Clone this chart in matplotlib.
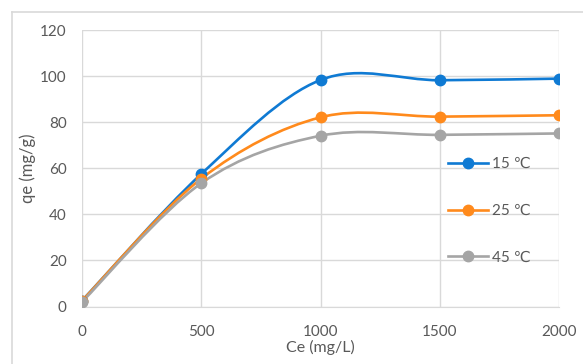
import matplotlib
matplotlib.use('Agg')
import matplotlib.pyplot as plt
from matplotlib.path import Path
from matplotlib.patches import PathPatch
from matplotlib.lines import Line2D

# data
ce = [0, 500, 1000, 1500, 2000]
qe_15 = [2.5, 57.5, 98.3, 98.2, 98.9]
qe_25 = [2.5, 55.5, 82.1, 82.4, 83.0]
qe_45 = [2.0, 53.5, 74.1, 74.5, 75.1]
labels = ['15 ℃', '25 ℃', '45 ℃']
colors = ['#0F7AD3', '#FF8A1C', '#A5A5A5']

plt.rcParams['font.family'] = ['Lato', 'DejaVu Sans']
TXT = '#595959'
GRID = '#D9D9D9'


def smooth_path(xs, ys):
    # Excel-style smoothed line: Catmull-Rom segments as cubic Beziers
    pts = list(zip(xs, ys))
    verts = [pts[0]]
    codes = [Path.MOVETO]
    n = len(pts)
    for i in range(n - 1):
        p0 = pts[i - 1] if i > 0 else pts[i]
        p1 = pts[i]
        p2 = pts[i + 1]
        p3 = pts[i + 2] if i + 2 < n else pts[i + 1]
        c1 = (p1[0] + (p2[0] - p0[0]) / 6, p1[1] + (p2[1] - p0[1]) / 6)
        c2 = (p2[0] - (p3[0] - p1[0]) / 6, p2[1] - (p3[1] - p1[1]) / 6)
        verts += [c1, c2, p2]
        codes += [Path.CURVE4] * 3
    return Path(verts, codes)


fig = plt.figure(figsize=(5.83, 3.64), dpi=100)
ax = fig.add_axes([82 / 583, 1 - 306.5 / 364, (559 - 82) / 583, (306.5 - 30) / 364])

# outer chart border
fig.add_artist(Line2D([12 / 583, 1], [1 - 12 / 364] * 2, color=GRID, lw=1.2, transform=fig.transFigure))
fig.add_artist(Line2D([12 / 583] * 2, [0, 1 - 12 / 364], color=GRID, lw=1.2, transform=fig.transFigure))

handles = []
for ys, lab, col in zip([qe_15, qe_25, qe_45], labels, colors):
    ax.add_patch(PathPatch(smooth_path(ce, ys), facecolor='none', edgecolor=col, lw=1.9, zorder=3))
    ax.plot(ce, ys, linestyle='none', marker='o', ms=7.5, color=col, zorder=4)
    handles.append(Line2D([], [], color=col, lw=1.9, marker='o', ms=7.5))

ax.set_xlim(0, 2000)
ax.set_ylim(0, 120)
ax.set_xticks(range(0, 2001, 500))
ax.set_yticks(range(0, 121, 20))
ax.grid(True, color=GRID, lw=1)
ax.set_axisbelow(True)
for s in ['top', 'right', 'left']:
    ax.spines[s].set_visible(False)
ax.spines['bottom'].set_color(GRID)
ax.tick_params(length=0, labelsize=11, labelcolor=TXT)
ax.tick_params(axis='x', pad=13)
ax.tick_params(axis='y', pad=11)

ax.set_xlabel('Ce (mg/L)', fontsize=11.5, color=TXT, labelpad=1)
ax.set_ylabel('qe (mg/g)', fontsize=12, color=TXT, labelpad=3)

ax.legend(handles, labels, loc='upper left', bbox_to_anchor=(448 / 583, 1 - 157 / 364),
          bbox_transform=fig.transFigure, frameon=False, fontsize=11, labelcolor=TXT,
          handlelength=2.6, handletextpad=0.3, labelspacing=2.15, borderpad=0, borderaxespad=0)

fig.savefig('out.png', dpi=100)
